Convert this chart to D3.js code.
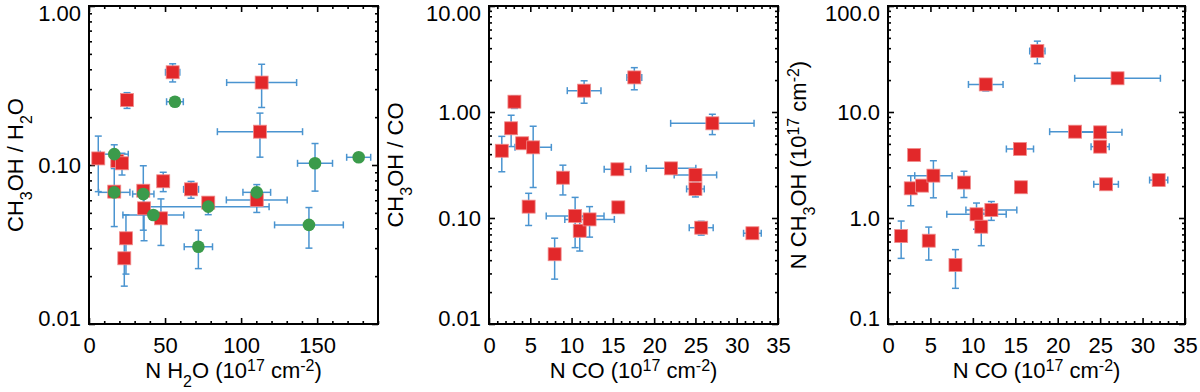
<!DOCTYPE html>
<html lang="en">
<head>
<meta charset="UTF-8" />
<title>CH3OH abundances</title>
<style>
  body { margin: 0; background: #fff; }
  svg { display: block; font-family: "Liberation Sans", Arial, Helvetica, sans-serif; }
  text { white-space: pre; }
</style>
</head>
<body>
<svg id="chart" width="1200" height="392"></svg>
<script src="https://d3js.org/d3.v7.min.js"></script>
<script>
// ---- panel 1: CH3OH / H2O against N H2O (red squares + green circles)
const redH2O      = [55.0, 113.5, 25.0, 112.4, 6.1, 18.6, 21.7, 48.8, 67.1, 110.3, 35.7, 16.6, 78.4, 36.2, 47.3, 24.3, 23.2];
const redH2OErr   = [4.7, 23, 0, 28, 0, 0, 0, 3.8, 4.9, 20, 0, 0, 0, 0, 0, 0, 0];
const redRatio    = [0.383, 0.33, 0.256, 0.162, 0.110, 0.106, 0.1025, 0.079, 0.0703, 0.0603, 0.0689, 0.068, 0.058, 0.0534, 0.0462, 0.0346, 0.0259];
const redRatioErr = [0.05, 0.10, 0.029, 0.05, 0.042, 0, 0.016, 0.011, 0.0085, 0.010, 0.03, 0.027, 0.004, 0.02, 0.015, 0.014, 0.0086];

const greenH2O      = [56.5, 16.6, 110.3, 35.7, 16.6, 78.4, 42.3, 71.9, 148.6, 177.3, 144.6];
const greenH2OErr   = [5.5, 9.2, 9.1, 7, 10.3, 40, 20, 9.3, 11.5, 7.9, 22.6];
const greenRatio    = [0.25, 0.117, 0.0673, 0.0657, 0.0673, 0.0547, 0.0485, 0.0306, 0.1025, 0.1118, 0.042];
const greenRatioErr = [0, 0.017, 0.008, 0, 0, 0.006, 0, 0.0083, 0.034, 0, 0.012];

// ---- panels 2 and 3: same sources, against N CO
const nCO        = [1.55, 2.68, 3.08, 4.02, 4.80, 5.35, 7.95, 8.95, 10.43, 10.99, 12.18, 11.52, 15.55, 15.66, 17.60, 22.05, 25.00, 25.00, 25.70, 27.05, 31.90];
const nCOErr     = [0, 0, 0, 0, 0, 2.2, 0.3, 0, 3.5, 0, 3.0, 2.04, 1.6, 0, 0.9, 3.0, 2.57, 1.07, 1.45, 5.05, 1.07];
const ratioCO    = [0.431, 0.702, 1.251, 0.507, 0.128, 0.464, 0.0455, 0.24, 0.1045, 0.0758, 0.097, 1.59, 0.288, 0.126, 2.12, 0.294, 0.255, 0.188, 0.081, 0.782, 0.0718];
const ratioCOErr = [0.158, 0.23, 0.17, 0, 0.043, 0.27, 0.019, 0.075, 0.052, 0.027, 0.031, 0.38, 0.01, 0.015, 0.5, 0.01, 0.02, 0.03, 0.012, 0.17, 0.005];
const nMeth      = [0.676, 1.905, 3.93, 2.02, 0.611, 2.51, 0.36, 2.16, 1.084, 0.828, 1.19, 18.2, 4.48, 1.95, 37.6, 6.52, 6.43, 4.71, 2.08, 20.8, 2.28];
const nMethErr   = [0.26, 0.6, 0, 0, 0.21, 0.96, 0.143, 0.6, 0.3, 0.28, 0.24, 2.4, 0.3, 0.2, 9, 0.3, 0.3, 0.3, 0.2, 0, 0.2];

// ---- axis ticks / labels
const h2oTicks  = [0, 50, 100, 150];
const h2oLabels = ["0", "50", "100", "150"];
const coTicks   = [0, 5, 10, 15, 20, 25, 30, 35];
const coLabels  = ["0", "5", "10", "15", "20", "25", "30", "35"];
const y1Ticks = [0.01, 0.1, 1],      y1Labels = ["0.01", "0.10", "1.00"];
const y2Ticks = [0.01, 0.1, 1, 10],  y2Labels = ["0.01", "0.10", "1.00", "10.00"];
const y3Ticks = [0.1, 1, 10, 100],   y3Labels = ["0.1", "1.0", "10.0", "100.0"];

const RED = "#e2282a", GREEN = "#3b9b4b", BLUE = "#4a94d0";
const TOP = 6, BOTTOM = 324, FS = 22, FS_SMALL = 16;

const svg = d3.select("#chart");

function rich(t, parts) {
  let shift = 0;
  parts.forEach(([s, kind]) => {
    const target = kind === "sub" ? 9 : kind === "sup" ? -7 : 0;
    t.append("tspan")
      .attr("dy", target - shift)
      .attr("font-size", kind ? FS_SMALL : FS)
      .text(s);
    shift = target;
  });
}

function styleAxis(g) {
  g.select(".domain").remove();
  g.selectAll("line").attr("stroke", "#000").attr("stroke-width", 1.6);
  g.selectAll("text").attr("fill", "#000").attr("font-size", FS)
    .attr("font-family", "'Liberation Sans', Arial, Helvetica, sans-serif");
}

function panel(cfg) {
  const xs = d3.scaleLinear().domain(cfg.xDomain).range([cfg.x0, cfg.x1]);
  const ys = d3.scaleLog().domain(cfg.yDomain).range([BOTTOM, TOP]);
  const g = svg.append("g");

  const xMinor = d3.range(cfg.xDomain[0], cfg.xDomain[1] + 1e-9, cfg.xStep)
    .filter(v => !cfg.xTicks.includes(v));
  const yMinor = ys.ticks().filter(v => !cfg.yTicks.some(t => Math.abs(t - v) < t * 1e-6));

  // bottom
  g.append("g").attr("transform", `translate(0,${BOTTOM})`)
    .call(d3.axisBottom(xs).tickValues(cfg.xTicks).tickFormat((d, i) => cfg.xLabels[i])
      .tickSize(-6).tickSizeOuter(0).tickPadding(13)).call(styleAxis);
  g.append("g").attr("transform", `translate(0,${BOTTOM})`)
    .call(d3.axisBottom(xs).tickValues(xMinor).tickFormat("").tickSize(-3).tickSizeOuter(0)).call(styleAxis);
  // top
  g.append("g").attr("transform", `translate(0,${TOP})`)
    .call(d3.axisTop(xs).tickValues(cfg.xTicks).tickFormat("").tickSize(-6).tickSizeOuter(0)).call(styleAxis);
  g.append("g").attr("transform", `translate(0,${TOP})`)
    .call(d3.axisTop(xs).tickValues(xMinor).tickFormat("").tickSize(-3).tickSizeOuter(0)).call(styleAxis);
  // left
  const yl = g.append("g").attr("transform", `translate(${cfg.x0},0)`)
    .call(d3.axisLeft(ys).tickValues(cfg.yTicks).tickFormat((d, i) => cfg.yLabels[i])
      .tickSize(-6).tickSizeOuter(0).tickPadding(8)).call(styleAxis);
  yl.selectAll("text").attr("dy", d => d === cfg.yDomain[1] ? "0.64em" : d === cfg.yDomain[0] ? "0.05em" : "0.34em");
  g.append("g").attr("transform", `translate(${cfg.x0},0)`)
    .call(d3.axisLeft(ys).tickValues(yMinor).tickFormat("").tickSize(-3).tickSizeOuter(0)).call(styleAxis);
  // right
  g.append("g").attr("transform", `translate(${cfg.x1},0)`)
    .call(d3.axisRight(ys).tickValues(cfg.yTicks).tickFormat("").tickSize(-6).tickSizeOuter(0)).call(styleAxis);
  g.append("g").attr("transform", `translate(${cfg.x1},0)`)
    .call(d3.axisRight(ys).tickValues(yMinor).tickFormat("").tickSize(-3).tickSizeOuter(0)).call(styleAxis);

  g.append("rect")
    .attr("x", cfg.x0).attr("y", TOP)
    .attr("width", cfg.x1 - cfg.x0).attr("height", BOTTOM - TOP)
    .attr("fill", "none").attr("stroke", "#000").attr("stroke-width", 2);

  // titles
  const xt = g.append("text").attr("x", (cfg.x0 + cfg.x1) / 2).attr("y", 378)
    .attr("text-anchor", "middle").attr("fill", "#000");
  rich(xt, cfg.xTitle);
  const yt = g.append("text")
    .attr("transform", `translate(${cfg.yTitleX},${(TOP + BOTTOM) / 2}) rotate(-90)`)
    .attr("text-anchor", "middle").attr("fill", "#000");
  rich(yt, cfg.yTitle);

  // error bars first, markers on top
  const lo = cfg.yDomain[0];
  const bars = g.append("g").attr("stroke", BLUE).attr("stroke-width", 1.5).attr("fill", "none");
  cfg.series.forEach(s => {
    s.x.forEach((xv, i) => {
      const px = xs(xv), py = ys(s.y[i]);
      if (s.xe[i] > 0) {
        const a = xs(xv - s.xe[i]), b = xs(xv + s.xe[i]);
        bars.append("line").attr("x1", a).attr("x2", b).attr("y1", py).attr("y2", py);
        [a, b].forEach(c => bars.append("line").attr("x1", c).attr("x2", c).attr("y1", py - 3.5).attr("y2", py + 3.5));
      }
      if (s.ye[i] > 0) {
        const a = ys(Math.max(s.y[i] - s.ye[i], lo)), b = ys(s.y[i] + s.ye[i]);
        bars.append("line").attr("x1", px).attr("x2", px).attr("y1", a).attr("y2", b);
        [a, b].forEach(c => bars.append("line").attr("y1", c).attr("y2", c).attr("x1", px - 3.5).attr("x2", px + 3.5));
      }
    });
  });
  cfg.series.forEach(s => {
    const pts = s.x.map((xv, i) => [xv, s.y[i]]);
    if (s.shape === "square") {
      g.append("g").selectAll("rect").data(pts).join("rect")
        .attr("x", d => xs(d[0]) - 6.5).attr("y", d => ys(d[1]) - 6.5)
        .attr("width", 13).attr("height", 13)
        .attr("fill", RED).attr("stroke", "#f08c8c").attr("stroke-width", 0.8);
    } else {
      g.append("g").selectAll("circle").data(pts).join("circle")
        .attr("cx", d => xs(d[0])).attr("cy", d => ys(d[1])).attr("r", 6.3)
        .attr("fill", GREEN);
    }
  });
}

const coTitle = [["N CO (10", ""], ["17", "sup"], [" cm", ""], ["-2", "sup"], [")", ""]];

panel({
  x0: 89, x1: 378, xDomain: [0, 190], xTicks: h2oTicks, xLabels: h2oLabels, xStep: 10,
  yDomain: [0.01, 1], yTicks: y1Ticks, yLabels: y1Labels, yTitleX: 23,
  xTitle: [["N H", ""], ["2", "sub"], ["O (10", ""], ["17", "sup"], [" cm", ""], ["-2", "sup"], [")", ""]],
  yTitle: [["CH", ""], ["3", "sub"], ["OH / H", ""], ["2", "sub"], ["O", ""]],
  series: [
    { x: redH2O, xe: redH2OErr, y: redRatio, ye: redRatioErr, shape: "square" },
    { x: greenH2O, xe: greenH2OErr, y: greenRatio, ye: greenRatioErr, shape: "circle" }
  ]
});

panel({
  x0: 489, x1: 778, xDomain: [0, 35], xTicks: coTicks, xLabels: coLabels, xStep: 1,
  yDomain: [0.01, 10], yTicks: y2Ticks, yLabels: y2Labels, yTitleX: 403,
  xTitle: coTitle,
  yTitle: [["CH", ""], ["3", "sub"], ["OH / CO", ""]],
  series: [{ x: nCO, xe: nCOErr, y: ratioCO, ye: ratioCOErr, shape: "square" }]
});

panel({
  x0: 888, x1: 1185, xDomain: [0, 35], xTicks: coTicks, xLabels: coLabels, xStep: 1,
  yDomain: [0.1, 100], yTicks: y3Ticks, yLabels: y3Labels, yTitleX: 806,
  xTitle: coTitle,
  yTitle: [["N CH", ""], ["3", "sub"], ["OH (10", ""], ["17", "sup"], [" cm", ""], ["-2", "sup"], [")", ""]],
  series: [{ x: nCO, xe: nCOErr, y: nMeth, ye: nMethErr, shape: "square" }]
});
</script>
</body>
</html>
